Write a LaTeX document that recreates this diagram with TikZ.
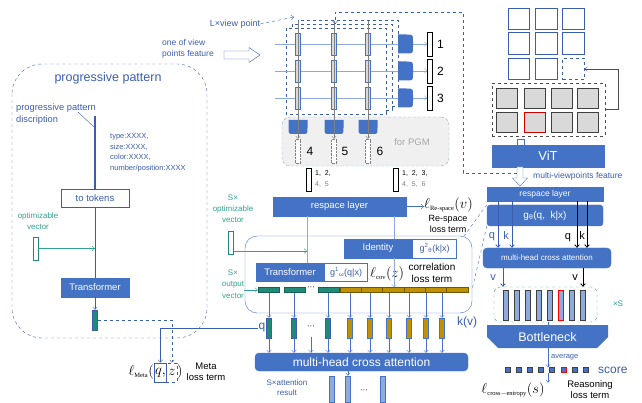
\documentclass[tikz,border=0pt]{standalone}
\usepackage{fontspec}
\setmainfont{Liberation Sans}
\newfontfamily\lossfont{Liberation Serif}
\usetikzlibrary{positioning,arrows.meta,calc}

\definecolor{mblue}{HTML}{4472C4}
\definecolor{dblue}{HTML}{3A5DAE}
\definecolor{lblue}{HTML}{8EA9DB}
\definecolor{barblue}{HTML}{8FAADC}
\definecolor{tealtext}{HTML}{34A090}
\definecolor{tealbar}{HTML}{1F8A78}
\definecolor{goldbar}{HTML}{BF9000}
\definecolor{cellgray}{HTML}{D9D9D9}

\newcommand{\fsz}[2]{\fontsize{#1}{#2}\selectfont}
\newcommand{\lsub}[1]{\mbox{\lossfont\fsz{6.5}{7}#1}}
\newcommand{\smallsub}[1]{\mbox{\fsz{6}{6}#1}}

\tikzset{
  >={Straight Barb[length=2.5pt,width=4.5pt]},
  bluebox/.style={fill=mblue, draw=mblue, text=white, inner sep=0pt},
  gbox/.style={fill=white, draw=dblue, thick, text=dblue, inner sep=0pt},
  vbar/.style={minimum width=5, minimum height=#1, inner sep=0pt, draw},
  vbar/.default=22,
  txt/.style={inner sep=0pt, align=center},
  loss/.style={inner sep=0pt, font=\fsz{14}{14}},
  cellbox/.style={draw=black!75, thick, fill=cellgray, minimum width=21, minimum height=20, inner sep=0pt},
}

\begin{document}
\begin{tikzpicture}[x=1pt,y=-1pt]
\useasboundingbox (0,0) rectangle (642,403);

% progressive pattern
\draw[dblue, dashed, rounded corners=30] (12,64) rectangle (207,338);
\node[txt, text=dblue, font=\fsz{12.5}{14}] (ptitle) at (108,78) {progressive pattern};
\node[txt, text=dblue, font=\fsz{9.3}{12}, align=left, anchor=west] (pdesc) at (16,114) {progressive pattern\\discription};
\node[txt, text=dblue, font=\fsz{7.5}{10.5}, align=left, anchor=west] (pattr) at (110,152.5) {type:XXXX,\\size:XXXX,\\color:XXXX,\\number/position:XXXX};
\node[gbox, minimum width=68, minimum height=18, font=\fsz{9.5}{11}] (totok) at (95,198) {to tokens};
\node[bluebox, minimum width=68, minimum height=19, font=\fsz{9.5}{11}] (ltrans) at (95,287.5) {Transformer};
\node[vbar=20, fill=tealbar, draw=dblue] (lvec) at (95,320) {};
\node[vbar=23, fill=white, draw=tealbar, thick] (optv) at (35.5,248.5) {};
\node[txt, text=tealtext, font=\fsz{8}{11}] at (38,221) {optimizable\\vector};
\coordinate (pcall) at (95,116);
\coordinate (pdiag) at (78,112);
\draw[dblue, line width=1.3pt] (pcall) -- (totok);
\draw[dblue] (pdiag) -- (pcall |- 0,128);
\draw[dblue] (totok) -- (ltrans);
\draw[->, tealtext] (optv.east) -- (optv.east -| totok);
\draw[->, dblue] (ltrans) -- (lvec);

% meta loss
\node[loss, anchor=east] (lmeta) at (154,372) {$\ell_{\lsub{Meta}}($};
\node[draw=dblue, thick, inner sep=0pt, minimum width=12, minimum height=19, anchor=west, font=\fsz{14}{14}] (qbox) at (154,372.5) {$q,$};
\node[draw=dblue, thick, dashed, inner sep=0pt, minimum width=11, minimum height=19, anchor=west, font=\fsz{14}{14}] (zbox) at (166,372.5) {$z$};
\node[loss, anchor=west] at (177,372) {$)$};
\node[txt, font=\fsz{9.5}{11}] at (206,371.5) {Meta\\loss term};

% view point stack
\node[txt, text=dblue, font=\fsz{9}{10}] (lview) at (235,24) {L×view point};
\coordinate (stacktl) at (294,17);
\draw[->, dblue, dashed] (lview.east) -- (stacktl);
\node[txt, text=dblue, font=\fsz{8.5}{11}, align=left] (onev) at (188,48.5) {one of view\\points feature};
\draw[dblue, fill=white] (224,51) -- (249,51) -- (249,47.5) -- (260,55) -- (249,62.5) -- (249,59) -- (224,59) -- cycle;
\foreach \xa/\ya/\xb/\yb in {298/20/398/106, 292/24/392/110, 286/28/386/114}
  \draw[dblue, thick, dashed, fill=white] (\xa,\ya) rectangle (\xb,\yb);

\foreach \i/\y in {1/44,2/71,3/98} {
  \node[vbar=24, fill=white, draw=black, thick] (ob\i) at (430,\y) {};
  \node[txt, font=\fsz{12}{12}, anchor=west] at (437,\y) {\i};
  \coordinate (hin\i) at (275,\y);
  \draw[->, lblue] (hin\i) -- (ob\i.west);
  \fill[mblue] (398,\y-9.5) -- (406,\y-9.5) .. controls (413,\y-9.5) and (413,\y-9.5) .. (413,\y-3) -- (413,\y+3) .. controls (413,\y+9.5) and (413,\y+9.5) .. (406,\y+9.5) -- (398,\y+9.5) -- cycle;
}
\foreach \c/\x in {1/298,2/334,3/368}
  \foreach \r/\y in {1/44,2/71,3/98}
    \node[vbar=22, fill=cellgray, draw=mblue, thick] (vb\c\r) at (\x,\y) {};

% for PGM
\node[draw=lblue, densely dashed, fill=gray!12, rounded corners=8, minimum width=167, minimum height=49, inner sep=0pt] (pgm) at (365.5,141.5) {};
\node[txt, text=gray!70, font=\fsz{9.5}{11}] at (412,142) {for PGM};
\foreach \c/\x/\n/\lx in {1/298/4/310, 2/334/5/345, 3/368/6/380} {
  \fill[mblue] (\x-9.5,120) -- (\x+9.5,120) -- (\x+9.5,128) .. controls (\x+9.5,134) and (\x+9.5,134) .. (\x+4,134) -- (\x-4,134) .. controls (\x-9.5,134) and (\x-9.5,134) .. (\x-9.5,128) -- cycle;
  \node[vbar=24, draw=gray, densely dotted, fill=white] (db\c) at (\x,151) {};
  \node[txt, font=\fsz{12}{12}] at (\lx,151) {\n};
  \coordinate (vtop\c) at (\x,21);
  \draw[->, gray] (vtop\c) -- (db\c.north);
}
\node[vbar=23, fill=white, draw=black, thick] (sb1) at (308.5,179.5) {};
\node[txt, font=\fsz{7}{11}, align=left, anchor=west] at (315,179.5) {1,\ \ 2,\\\textcolor{gray}{4,\ \ 5}};
\node[vbar=23, fill=white, draw=black, thick] (sb2) at (395.5,179.5) {};
\node[txt, font=\fsz{7}{11}, align=left, anchor=west] at (402,179.5) {1,\ \ 2,\ \ 3,\\\textcolor{gray}{4,\ \ 5,\ \ 6}};

% respace and k(v)
\node[bluebox, minimum width=133, minimum height=19, font=\fsz{9.5}{11}] (lresp) at (339.5,206.5) {respace layer};
\node[loss, anchor=west] (lre) at (424,205) {$\ell_{\lsub{Re-space}}(v)$};
\draw[->, mblue] (lresp.east) -- (lresp.east -| lre.west);
\node[txt, font=\fsz{9}{10.5}] at (448,224) {Re-space\\loss term};
\node[draw=mblue, rounded corners=12, minimum width=227, minimum height=77, inner sep=0pt] (kreg) at (358.5,274.5) {};
\node[bluebox, minimum width=68, minimum height=19, font=\fsz{9.5}{11}] (ident) at (378,248.5) {Identity};
\node[gbox, draw=mblue, minimum width=44, minimum height=19, anchor=west, font=\fsz{9}{11}] (identg) at (ident.east) {g\textsuperscript{2}\textsubscript{θ}(k|x)};
\node[bluebox, minimum width=68, minimum height=18, font=\fsz{9.5}{11}] (mtrans) at (290,272) {Transformer};
\node[gbox, draw=mblue, minimum width=43, minimum height=18, anchor=west, font=\fsz{9}{11}] (mtransg) at (mtrans.east) {g\textsuperscript{1}\textsubscript{ω}(q|x)};
\node[loss, anchor=west] (lcov) at (370,274) {$\ell_{\lsub{cov}}(z)$};
\node[txt, font=\fsz{10}{12.5}] at (432,273) {correlation\\loss term};
\node[bluebox, rounded corners=4, minimum width=213, minimum height=18, font=\fsz{12}{13}] (mhca) at (361.5,362) {multi-head cross attention};

\foreach \i/\x in {1/268.5,2/294.5,3/328.5}
  \node[minimum width=21, minimum height=5, inner sep=0pt, fill=tealbar, draw=tealbar!70!black] (ts\i) at (\x,290) {};
\foreach \i in {1,...,6}
  \node[minimum width=21.33, minimum height=5, inner sep=0pt, fill=goldbar, draw=goldbar!60!black] (gs\i) at ({340+21.33*(\i-0.5)},290) {};
\node[txt, font=\fsz{8}{8}] at (311,288) {···};

\coordinate (tcol) at (307,0);
\coordinate (icol) at (394,0);
\draw[lblue] (lresp.south -| tcol) -- (mtrans.north -| tcol);
\draw[lblue] (lresp.south -| icol) -- (ident.north -| icol);
\draw[->, lblue] (ident.south -| icol) -- (gs3.north -| icol);

\node[vbar=23, fill=white, draw=tealbar, thick] (soptv) at (231,242.5) {};
\node[txt, text=tealtext, font=\fsz{8}{11}] at (233,209) {S×\\optimizable\\vector};
\draw[->, tealtext] ([yshift=-8.5pt]soptv.east) coordinate (sa) -- (sa -| tcol);
\node[txt, text=tealtext, font=\fsz{8}{11.5}] (soutt) at (233,284) {S×\\output\\vector};
\draw[->, tealtext] ([xshift=-14pt]ts1.west) -- (ts1.west);

\foreach \i/\x in {1/269,2/294,3/328} {
  \node[vbar=20, fill=tealbar, draw=dblue] (tb\i) at (\x,328) {};
  \draw[->, mblue] (tb\i |- ts1.south) -- (tb\i.north);
  \draw[->, mblue] (tb\i.south) -- (tb\i |- mhca.north);
}
\foreach \i/\x in {1/350,2/370,3/389,4/409,5/426,6/442} {
  \node[vbar=20, fill=goldbar, draw=mblue] (gb\i) at (\x,328) {};
  \draw[->, mblue] (gb\i |- gs1.south) -- (gb\i.north);
  \draw[->, mblue] (gb\i.south) -- (gb\i |- mhca.north);
}
\node[txt, font=\fsz{8}{8}] (dots2) at (311,327) {···};
\draw[->, mblue] ([yshift=-8pt]dots2.south) -- (dots2.south |- mhca.north);
\node[txt, text=dblue, font=\fsz{12}{12}] (qlab) at (262,328) {q};
\draw[->, dblue] (qlab.west) -| (qbox.north);
\draw[->, dblue, dashed] (lvec.east) -| (zbox.north);
\node[txt, text=dblue, font=\fsz{12}{12}] (kv) at (467,322) {k(v)};

\foreach \i/\x in {1/332,2/348,3/383}
  \node[vbar=26, fill=barblue, draw=mblue, thick] (ab\i) at (\x,389) {};
\node[txt, font=\fsz{8}{8}] at (364,391) {···};
\draw[->, mblue] (mhca.south -| ab2) -- (ab2.north);
\node[txt, text=dblue, font=\fsz{8}{10}] at (287,388) {S×attention\\result};

% ViT branch
\foreach \r/\y in {1/19,2/43.5}
  \foreach \c/\x in {1/519,2/546.5,3/573.5}
    \node[draw=dblue, thick, minimum width=21.5, minimum height=21.5, inner sep=0pt] (g\r\c) at (\x,\y) {};
\node[draw=dblue, thick, minimum width=21.5, minimum height=21.5, inner sep=0pt] (g31) at (519,69) {};
\node[draw=dblue, thick, minimum width=21.5, minimum height=21.5, inner sep=0pt] (g32) at (546.5,69) {};
\node[draw=dblue, thick, dashed, minimum width=21.5, minimum height=21.5, inner sep=0pt] (g33) at (573.5,69) {};
\node[draw=black!70, dashed, thick, minimum width=113, minimum height=53, inner sep=0pt] (vbox) at (548.5,109.5) {};
\foreach \r/\y in {1/98.5,2/122}
  \foreach \c/\x in {1/507,2/534.5,3/562,4/588}
    \node[cellbox] (c\r\c) at (\x,\y) {};
\node[cellbox, draw=red!80!black] at (c22) {};
\draw[->, black!70] (vbox.east) -- ++(13,0) |- (g33.east);
\node[draw=mblue, fill=white, minimum width=7, minimum height=6, inner sep=0pt] (link) at (520.5,142) {};
\node[bluebox, minimum width=112, minimum height=22, font=\fsz{13}{13}] (vit) at (548,156) {ViT};
\draw[mblue, fill=white] (517,167) -- (523,167) -- (523,178) -- (527.5,178) -- (520,186) -- (512.5,178) -- (517,178) -- cycle;
\node[txt, text=dblue, font=\fsz{8.5}{10}, anchor=west] at (533,176) {multi-viewpoints feature};
\coordinate (mvin) at (517,173);
\coordinate (dtop) at (463,12);
\coordinate (stackin) at (335,24);
\draw[->, dblue, dashed] (mvin) -| (dtop) -| (stackin);

\node[bluebox, minimum width=116, minimum height=14, font=\fsz{8.5}{10}] (rresp) at (545,194) {respace layer};
\node[bluebox, rounded corners=3, minimum width=116, minimum height=21, font=\fsz{10}{11}] (gth) at (545,215.5) {g\textsubscript{θ}(q,\ \ k|x)};
\node[bluebox, rounded corners=4, minimum width=128, minimum height=20, font=\fsz{8}{9}] (rmhca) at (547,258) {multi-head cross attention};
\coordinate (qa) at (498,0);
\coordinate (ka) at (512,0);
\coordinate (qb) at (577,0);
\coordinate (kb) at (587,0);
\draw[->, dblue, thick] (rresp.south -| qa) -- (rmhca.north -| qa);
\draw[->, dblue, thick] (rresp.south -| ka) -- (rmhca.north -| ka);
\draw[->, black, thick] (rresp.south -| qb) -- (rmhca.north -| qb);
\draw[->, black, thick] (rresp.south -| kb) -- (rmhca.north -| kb);
\node[txt, text=dblue, font=\fsz{11}{11}] at (492,237) {q};
\node[txt, text=dblue, font=\fsz{11}{11}] at (506,236) {k};
\node[txt, font=\fsz{11}{11}] at (568,238) {q};
\node[txt, font=\fsz{11}{11}] at (582,236) {k};
\draw[dashed, mblue] (gth.north west) -- ([xshift=-8pt]kreg.north east);
\coordinate (kz) at (472,290);
\draw[dashed, mblue] (gth.south west) -- (kz);

\node[draw=tealtext, dashed, rounded corners=6, minimum width=103, minimum height=35, inner sep=0pt] (bbox) at (545.5,304.5) {};
\coordinate (va) at (503,0);
\coordinate (vb) at (583,0);
\draw[->, dblue, thick] (rmhca.south -| va) -- (bbox.north -| va);
\draw[->, black, thick] (rmhca.south -| vb) -- (bbox.north -| vb);
\node[txt, text=dblue, font=\fsz{11}{11}] at (493,278) {v};
\node[txt, font=\fsz{11}{11}] at (575,278) {v};
\foreach \i in {1,...,8}
  \node[vbar=30, fill=barblue, draw=black!75, thick] (rb\i) at ({506+11*(\i-1)},305) {};
\node[vbar=30, fill=barblue, draw=red, thick] at (rb6) {};
\node[txt, text=tealtext, font=\fsz{8}{8}] at (618,304) {×S};

\coordinate (bntop) at (548,325);
\coordinate (bnbot) at (548,348);
\draw[mblue] (bbox.south -| bntop) -- (bntop);
\fill[mblue] (487,325) -- (608,325) -- (608,337) -- (597,348) -- (498,348) -- (487,337) -- cycle;
\node[txt, text=white, font=\fsz{12.5}{13}] (bneck) at (547.5,337) {Bottleneck};
\foreach \i/\x/\c in {1/508/black!75,2/519/black!75,3/530/black!75,4/541/black!75,5/552/black!75,6/564/red,7/575/black!75,8/586/black!75}
  \node[minimum size=5, inner sep=0pt, fill=mblue, draw=\c, thick] (sc\i) at (\x,370) {};
\draw[->, mblue] (bnbot) -- (bnbot |- sc1.north);
\node[txt, text=dblue, font=\fsz{7.5}{8}, anchor=west] at (551,357) {average};
\node[txt, text=dblue, font=\fsz{12}{12}, anchor=west] at (598,370) {score};
\node[loss] (lce) at (513,390) {$\ell_{\lsub{cross$-$entropy}}(s)$};
\draw[->, mblue] (bnbot |- sc1.south) -- (bnbot |- lce.north);
\node[txt, font=\fsz{9.5}{11}] at (590,389.5) {Reasoning\\loss term};
\end{tikzpicture}
\end{document}
